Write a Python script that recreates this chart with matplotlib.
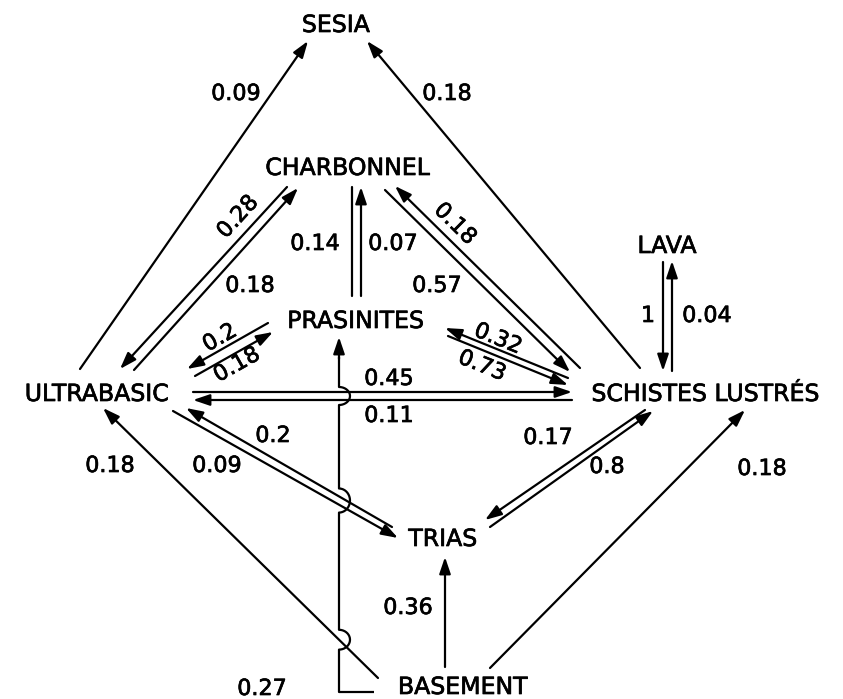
# Transfer diagram between tectonic reservoirs
import numpy as np
import matplotlib.pyplot as plt
import matplotlib.patheffects as pe

plt.rcParams['font.family'] = ['DejaVu Sans']

# Reservoirs
nodes = ['SESIA', 'CHARBONNEL', 'LAVA', 'PRASINITES', 'ULTRABASIC',
         'SCHISTES LUSTRÉS', 'TRIAS', 'BASEMENT']

# Transfers (source -> target) and their values
flow_from = ['ULTRABASIC', 'SCHISTES LUSTRÉS', 'CHARBONNEL', 'ULTRABASIC',
             'CHARBONNEL', 'PRASINITES', 'SCHISTES LUSTRÉS', 'CHARBONNEL',
             'PRASINITES', 'ULTRABASIC', 'SCHISTES LUSTRÉS', 'PRASINITES',
             'ULTRABASIC', 'SCHISTES LUSTRÉS', 'TRIAS', 'ULTRABASIC',
             'BASEMENT', 'BASEMENT', 'BASEMENT', 'SCHISTES LUSTRÉS',
             'TRIAS', 'LAVA', 'SCHISTES LUSTRÉS', 'BASEMENT']
flow_to = ['SESIA', 'SESIA', 'ULTRABASIC', 'CHARBONNEL',
           'PRASINITES', 'CHARBONNEL', 'CHARBONNEL', 'SCHISTES LUSTRÉS',
           'ULTRABASIC', 'PRASINITES', 'PRASINITES', 'SCHISTES LUSTRÉS',
           'SCHISTES LUSTRÉS', 'ULTRABASIC', 'ULTRABASIC', 'TRIAS',
           'ULTRABASIC', 'TRIAS', 'SCHISTES LUSTRÉS', 'TRIAS',
           'SCHISTES LUSTRÉS', 'SCHISTES LUSTRÉS', 'LAVA', 'PRASINITES']
flow_values = ['0.09', '0.18', '0.28', '0.18',
               '0.14', '0.07', '0.18', '0.57',
               '0.2', '0.18', '0.32', '0.73',
               '0.45', '0.11', '0.2', '0.09',
               '0.18', '0.36', '0.18', '0.17',
               '0.8', '1', '0.04', '0.27']

# ---- layout (pixel coordinates, y pointing down) ----
node_pos = {'SESIA': (336, 24), 'CHARBONNEL': (348, 167), 'LAVA': (667, 245),
            'PRASINITES': (356, 320), 'ULTRABASIC': (97, 393),
            'SCHISTES LUSTRÉS': (706, 393), 'TRIAS': (443, 538),
            'BASEMENT': (463, 686)}

# start / end of each arrow (last one is the routed line, handled apart)
arrow_pts = [((80, 369), (308, 41)), ((640, 368), (367, 41)),
             ((287, 187), (120, 369)), ((134, 370), (298, 188)),
             ((352, 187), (352, 296)), ((361, 296), (361, 187)),
             ((580, 368), (395, 186)), ((385, 190), (570, 372)),
             ((268, 323), (187, 369)), ((195, 376), (273, 332)),
             ((568, 378), (445, 328)), ((448, 336), (568, 385)),
             ((193, 392), (572, 392)), ((572, 400), (193, 400)),
             ((392, 527), (186, 408)), ((173, 411), (398, 538)),
             ((378, 678), (103, 408)), ((445, 667), (445, 557)),
             ((490, 668), (745, 410)), ((645, 410), (485, 520)),
             ((490, 527), (653, 411)), ((663, 262), (663, 371)),
             ((672, 371), (672, 261)), None]
no_head = [4]

# value label positions (x, y, rotation)
label_pos = [(236, 93, 0), (447, 93, 0), (238, 216, 47.5), (250, 285, 0),
             (315, 243, 0), (393, 243, 0), (455, 223, -44.5), (437, 285, 0),
             (220, 337, 29.6), (237, 364, 29.6), (498, 338, -22), (482, 365, -22),
             (389, 378, 0), (389, 415, 0), (273, 435, 0), (217, 465, 0),
             (110, 465, 0), (408, 607, 0), (762, 468, 0), (548, 437, 0),
             (607, 466, 0), (648, 315, 0), (707, 315, 0), (262, 688, 0)]

# routed BASEMENT -> PRASINITES line, hopping over the arrows it crosses
route_x = 339
route_bottom = 692
route_foot = 374
route_top = 337
hop_groups = [[12, 13], [14, 15], [16]]

LW = 1.6
HEAD = '-|>,head_length=1.0,head_width=0.34'
heavy = [pe.withStroke(linewidth=0.5, foreground='black')]


def arrow(ax, p0, p1, head=True):
    ax.annotate('', xy=p1, xytext=p0,
                arrowprops=dict(arrowstyle=HEAD if head else '-', color='black',
                                lw=LW, shrinkA=0, shrinkB=0, mutation_scale=10))


def cross_y(seg, x):
    (x0, y0), (x1, y1) = seg
    t = (x - x0) / (x1 - x0)
    return y0 + t * (y1 - y0), abs((y1 - y0) / (x1 - x0))


fig = plt.figure(figsize=(8.43, 6.99), dpi=100)
ax = fig.add_axes([0, 0, 1, 1])
ax.set_xlim(0, 843)
ax.set_ylim(699, 0)
ax.axis('off')

for name in nodes:
    x, y = node_pos[name]
    ax.text(x, y + 1, name, fontsize=17, ha='center', va='center',
            path_effects=heavy)

for i, seg in enumerate(arrow_pts):
    if seg is None:
        continue
    arrow(ax, seg[0], seg[1], head=i not in no_head)

for val, (x, y, rot) in zip(flow_values, label_pos):
    ax.text(x, y + 1, val, fontsize=16, ha='center', va='center',
            rotation=rot, rotation_mode='anchor', path_effects=heavy)

# build the hopping route from the bottom up
hops = []
for grp in hop_groups:
    ys, slopes = zip(*[cross_y(arrow_pts[i], route_x) for i in grp])
    yc = np.mean(ys)
    ry = (max(ys) - min(ys)) / 2 + 5 + max(slopes) * 5
    hops.append((yc, ry))
hops.sort(reverse=True)

xs = [route_foot, route_x]
ys = [route_bottom, route_bottom]
rx = 11
for yc, ry in hops:
    th = np.linspace(0, np.pi, 40)
    xs += [route_x] + list(route_x + rx * np.sin(th)) + [route_x]
    ys += [yc + ry] + list(yc + ry * np.cos(th)) + [yc - ry]
xs.append(route_x)
ys.append(route_top + 20)
ax.plot(xs, ys, color='black', lw=LW, solid_capstyle='butt')
arrow(ax, (route_x, route_top + 22), (route_x, route_top))

fig.savefig('out.png', dpi=100)
